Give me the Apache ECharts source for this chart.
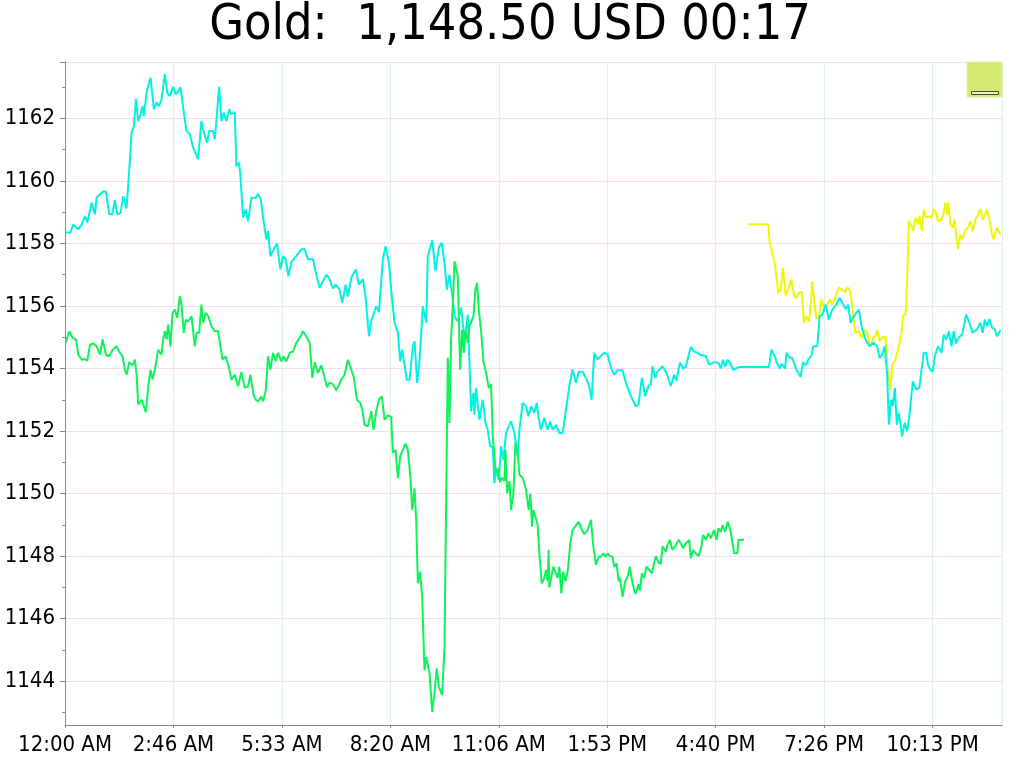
<!DOCTYPE html>
<html>
<head>
<meta charset="utf-8">
<script src="https://cdn.jsdelivr.net/npm/echarts@6/dist/echarts.min.js"></script>
<style>html,body{margin:0;padding:0;background:#fff}#c{width:1020px;height:766px}</style>
</head>
<body>
<div id="c"></div>
<script>
const titleText = 'Gold:  1,148.50 USD 00:17';
const xTickLabels = ['12:00 AM','2:46 AM','5:33 AM','8:20 AM','11:06 AM','1:53 PM','4:40 PM','7:26 PM','10:13 PM'];
const yTickLabels = [1144,1146,1148,1150,1152,1154,1156,1158,1160,1162];
const yMinorTicks = [1143,1145,1147,1149,1151,1153,1155,1157,1159,1161,1163];
const yRange = [1142.6, 1163.8];

// times are minutes after midnight
const cyanTimes = [1.0,7.7,12.8,20.5,25.6,30.7,34.3,40.9,46.0,48.6,58.8,62.9,68.0,72.6,76.7,80.3,85.4,89.5,94.6,99.8,102.3,105.9,109,112.5,116.1,119.2,121.2,125.3,131.5,136.6,140.7,144.3,148.4,153.5,157.0,161.1,166.3,169.8,172.9,177.5,181.6,186.7,191.8,197.0,204.6,209.7,214.9,218.4,221.5,227.6,230.2,232.8,236.9,240.4,244,248.1,252.2,255.8,260.9,263.4,267.5,269.6,273.7,277.3,281.4,286.5,293.1,296.7,300.8,304.4,309.5,312.1,315.6,320.7,325.9,331.0,335.1,339.2,343.3,347.9,355.5,363.2,368.3,373.5,381.1,386.2,391.3,396.5,401.6,
406.7,411.8,415.9,422.0,426.1,431.2,434.8,440.0,446.6,451.7,457.9,462.0,467.1,470.6,478.3,482.4,488.6,492.6,497.8,501.3,506.5,511.6,515.2,518.2,525.4,529.5,534.6,537.2,541.2,544.8,549.9,555.1,557.6,564.3,569.4,574.5,579.1,583.2,586.8,590.9,596.0,598.5,603.7,608.8,613.9,619.0,624.1,627.7,629.2,631.8,636.9,642.0,646.1,649.7,653.3,657.4,659.9,662.5,666.6,670.2,673.7,677.8,685.5,690.6,695.7,698.3,703.4,708.5,712.1,716.2,721.3,724.9,728.0,731.5,736.7,741.8,745.4,749.5,754.6,759.7,764.8,769.9,775.0,780.1,785.3,789.4,795.5,800.6,805.7,809.3,813.4,818.5,823.6,828.7,833.9,839.0,844.1,849.2,856.9,862.0,869.7,877.3,881.4,886.5,891.7,896.8,900.4,902.9,907.0,910.6,
918.2,924.4,931.0,936.1,939.7,944.8,949.9,954.0,961.7,966.8,971.9,977.0,984.7,989.8,997.5,1004.2,1007.7,1011.3,1014.4,1018.0,1021.6,1026.7,1030.8,1035.9,1081.9,1085.5,1089.6,1093.2,1098.3,1101.4,1106.5,1109.0,1113.6,1117.7,1123.9,1130.5,1134.1,1138.2,1142.3,1147.4,1150.0,1156.1,1159.7,1163.8,1168.9,1174.0,1179.1,1185.3,1190.4,1194.5,1199.6,1203.7,1207.3,1212.4,1216.0,1220.0,1224.1,1230.3,1236.4,1243.1,1248.2,1251.8,1255.9,1259.9,1263.5,1266.1,1269.7,1272.2,1275.3,1278.4,1281.4,1286.6,1290.6,1294.2,1297.8,1302.9,1308.0,1313.1,1315.7,1319.8,1323.4,1326.4,1330.0,1333.6,1336.7,1341.8,1346.9,1350.5,1354.1,1358.2,1362.3,1365.8,1369.4,1373.5,1378.6,1384.8,1389.9,1395.0,1401.6,1406.8,1410.3,1413.4,1417.0,1420.6,1424.7,1428.8,1432.3,1437.5];
const cyanValues = [1158.36,1158.33,1158.6,1158.45,1158.6,1158.87,1158.67,1159.3,1158.93,1159.47,1159.67,1159.65,1158.93,1158.93,1159.38,1158.93,1158.98,1159.51,1159.12,1160.69,1161.55,1161.75,1162.61,1161.91,1162.13,1162.39,1162.07,1162.82,1163.3,1162.29,1162.51,1162.39,1162.61,1163.41,1162.82,1162.71,1163.01,1162.77,1162.82,1163.0,1162.34,1161.59,1161.49,1161.06,1160.69,1161.91,1161.43,1161.22,1161.59,1161.59,1161.33,1161.97,1163.01,1161.91,1162.18,1161.91,1162.29,1162.13,1162.2,1160.47,1160.58,1160.15,1158.82,1159.09,1158.71,1159.46,1159.46,1159.59,1159.41,1158.82,1158.13,1158.39,1157.59,1157.81,1158.0,1157.17,1157.59,1157.49,1156.95,1157.41,1157.59,1157.81,1157.81,1157.49,1157.49,1157.0,1156.58,1156.79,1157.0,
1156.85,1156.56,1156.68,1156.52,1156.1,1156.68,1156.3,1156.9,1157.17,1156.68,1156.85,1156.27,1155.03,1155.51,1155.99,1155.8,1157.5,1157.91,1157.38,1156.5,1155.46,1155.14,1154.23,1154.6,1153.64,1153.64,1154.71,1154.87,1153.54,1154.23,1155.99,1155.46,1157.59,1158.1,1157.11,1157.86,1158.02,1157.38,1156.52,1157.0,1156.2,1155.67,1155.51,1155.94,1154.92,1155.72,1152.63,1153.22,1152.52,1153.38,1152.36,1153.0,1152.26,1152.04,1151.51,1151.5,1150.33,1150.76,1150.44,1151.51,1151.08,1151.94,1152.31,1151.94,1151.19,1152.04,1152.9,1152.79,1152.47,1152.79,1152.58,1152.9,1152.4,1152.04,1152.42,1152.04,1152.3,1152.04,1152.2,1151.94,1151.94,1152.68,1153.43,1153.97,1153.54,1153.9,1153.89,1153.7,1153.43,1153.0,1154.5,1154.29,1154.4,1154.5,1154.45,1154.02,1153.8,1153.94,1153.94,1153.54,1153.11,1152.79,1152.85,1153.7,1153.11,1153.45,1153.48,1154.07,1153.7,1153.9,
1154.07,1153.86,1153.43,1153.8,1153.6,1154.18,1154.0,1154.05,1154.69,1154.55,1154.5,1154.43,1154.4,1154.12,1154.2,1154.18,1154.0,1154.28,1154.05,1154.28,1154.2,1153.96,1154.0,1154.05,1154.05,1154.6,1154.45,1154.23,1154.0,1154.15,1154.0,1154.5,1154.34,1154.34,1153.96,1153.73,1154.2,1154.1,1154.28,1154.43,1154.71,1154.71,1155.67,1155.72,1156.04,1155.56,1155.88,1156.04,1156.26,1156.1,1155.9,1156.04,1155.46,1155.67,1155.78,1155.88,1155.35,1154.92,1154.71,1154.82,1154.7,1154.34,1154.45,1154.71,1153.8,1152.2,1153.0,1152.8,1153.38,1152.2,1152.58,1151.83,1152.26,1152.0,1152.52,1153.59,1153.33,1153.38,1153.86,1154.5,1154.5,1154.12,1153.96,1153.9,1154.4,1154.71,1154.5,1155.08,1154.92,1155.19,1154.71,1155.19,1154.8,1155.0,1155.08,1155.72,1155.46,1155.14,1155.25,1155.46,1155.14,1155.56,1155.35,1155.58,1155.3,1155.27,1155.03,1155.22];

const greenTimes = [1.0,6.6,11.8,16.9,20.5,25.6,30.7,34.3,38.4,43.5,48.6,53.7,57.8,62.9,68.0,73.1,79.3,84.4,88.5,92.1,94.6,98.7,103.8,107.4,110.0,112.5,117.7,120.2,124.3,127.9,131.5,134.5,138.1,143.2,148.4,150.9,153.5,156.0,158.6,162.2,165.2,168.8,172.4,176.5,179.0,182.6,185.7,189.3,194.4,199.5,202.1,206.1,209.7,212.3,216.4,220.0,225.1,230.2,235.3,242.0,247.1,252.2,255.8,260.9,266.0,271.1,276.2,281.4,284.9,289.0,293.1,296.7,301.8,304.4,308.5,312.1,315.6,319.7,323.8,327.4,332.5,336.1,340.2,345.3,350.4,355.5,360.7,365.8,370.9,376.0,380.1,383.7,388.8,393.9,399.0,402.6,406.7,
411.8,416.9,424.6,429.7,434.8,440.0,443.5,448.6,453.8,456.8,460.4,465.5,470.6,474.2,478.3,482.4,487.0,491.1,496.2,501.3,503.9,508.0,511.6,515.2,519.2,523.3,526.9,530.5,533.6,537.2,539.7,542.3,545.8,548.9,552.5,555.1,557.6,560.2,564.3,567.8,571.4,574.5,579.6,583.2,585.7,588.3,590.9,593.4,597.0,598.5,603.7,607.2,610.3,612.9,615.4,619.0,621.6,624.1,627.7,630.8,633.3,635.9,639.5,643.0,647.1,651.2,654.8,657.4,659.9,662.5,666.1,668.6,671.7,675.3,676.8,679.4,683.0,685.5,689.1,692.2,695.7,698.3,703.4,708.5,712.6,715.2,717.7,719.8,
726.4,729.0,732.6,736.7,739.2,741.8,743.3,744.3,746.9,750.5,753.5,757.1,759.7,762.8,765.8,768.9,772.5,775.0,776.6,780.1,784.2,789.4,793.0,798.1,803.2,808.3,811.9,816.0,820.0,823.6,827.2,830.3,833.9,837.4,841.5,844.1,847.7,850.7,852.8,856.9,861.0,864.6,868.1,871.2,874.8,877.4,881.4,883.5,886.6,890.1,893.7,897.8,901.9,904.0,908.0,912.1,915.7,918.3,923.4,926.0,929.5,933.6,937.7,942.8,946.4,950.0,954.1,959.2,961.8,965.3,969.4,973.5,977.1,980.7,984.8,988.9,992.4,997.6,1001.1,1004.2,1007.8,1010.4,1014.4,1018.5,1023.1,1025.7,1028.3,1033.4,1034.9,1043.6];
const greenValues = [1154.82,1155.19,1154.98,1154.93,1154.44,1154.28,1154.3,1154.25,1154.76,1154.8,1154.71,1154.44,1154.93,1154.44,1154.39,1154.6,1154.71,1154.5,1154.39,1153.96,1153.8,1154.2,1154.1,1154.28,1153.8,1152.84,1153.0,1152.95,1152.6,1153.43,1153.96,1153.65,1153.96,1154.6,1154.44,1154.93,1155.19,1154.93,1155.4,1154.7,1155.78,1155.88,1155.62,1156.31,1156.04,1155.14,1155.56,1155.5,1155.67,1154.71,1155.14,1155.14,1156.04,1155.46,1155.78,1155.67,1155.35,1155.19,1155.2,1154.28,1154.39,1154.0,1153.64,1153.8,1153.43,1153.89,1153.38,1153.43,1153.8,1153.22,1153.0,1152.95,1153.1,1152.95,1153.3,1154.39,1153.96,1154.5,1154.23,1154.5,1154.23,1154.39,1154.23,1154.5,1154.55,1154.82,1154.98,1155.19,1155.03,1154.82,1153.7,1154.2,1153.86,1154.1,1153.7,1153.4,1153.55,
1153.5,1153.3,1153.64,1153.8,1154.28,1153.96,1153.75,1153.0,1152.9,1152.68,1152.2,1152.15,1152.63,1152.04,1152.63,1153.0,1153.11,1152.36,1152.5,1152.45,1151.3,1151.4,1150.49,1151.2,1151.4,1151.6,1151.4,1150.6,1149.48,1150.17,1149.16,1147.13,1147.5,1146.7,1144.35,1144.78,1144.75,1144.25,1143.02,1143.61,1144.41,1143.82,1143.56,1145.05,1145.1,1154.34,1152.26,1154.92,1156.52,1157.43,1156.95,1153.96,1155.24,1154.5,1155.2,1154.82,1155.35,1155.4,1155.67,1156.52,1156.74,1155.88,1155.2,1154.23,1153.86,1153.38,1153.5,1151.83,1151.19,1150.65,1150.8,1150.36,1150.5,1150.4,1151.4,1150.01,1150.4,1149.48,1150.0,1151.62,1151.3,1150.6,1150.5,1150.12,1149.48,1150.0,1148.94,1149.48,
1149.0,1148.09,1147.13,1147.3,1147.56,1147.2,1148.2,1147.0,1147.02,1147.66,1147.7,1147.3,1147.66,1146.81,1147.5,1147.2,1147.5,1147.5,1148.41,1148.84,1148.95,1149.1,1148.9,1148.7,1148.84,1149.16,1148.31,1147.72,1147.98,1147.98,1148.09,1147.98,1148.09,1148.0,1147.98,1147.66,1147.77,1147.2,1147.3,1146.7,1147.2,1147.35,1147.66,1147.25,1146.9,1146.8,1147.1,1146.9,1147.45,1147.3,1147.66,1147.56,1147.45,1147.66,1148.0,1147.8,1147.75,1148.31,1148.15,1148.36,1148.52,1148.2,1148.31,1148.52,1148.41,1148.25,1148.41,1148.52,1147.93,1148.2,1148.09,1148.0,1148.2,1148.68,1148.52,1148.73,1148.57,1148.84,1148.52,1148.89,1148.78,1148.99,1148.78,1149.1,1148.78,1148.84,1148.09,1148.09,1148.52,1148.52];

const yellowTimes = [1050.2,1080.9,1082.9,1087.0,1091.1,1093.2,1096.2,1099.8,1103.4,1107.5,1112.6,1116.2,1120.3,1123.9,1128.0,1132.1,1135.6,1139.2,1143.3,1145.9,1148.4,1151.0,1154.6,1158.7,1162.7,1166.3,1171.4,1176.6,1179.1,1184.2,1189.4,1194.5,1199.6,1202.1,1205.7,1208.8,1211.4,1214.9,1220.0,1224.1,1229.2,1232.8,1237.9,1242.0,1245.6,1248.2,1251.8,1255.9,1261.0,1263.5,1268.6,1271.2,1276.3,1278.9,1282.5,1285.5,1287.6,1291.7,1294.2,1296.8,1300.9,1303.4,1307.0,1311.1,1313.2,1317.2,1319.8,1323.4,1327.5,1331.6,1335.1,1338.7,1341.8,1346.9,1350.5,1353.0,1355.6,1357.2,1360.7,1364.3,1367.4,1369.4,1372.5,1376.1,1379.7,1383.7,1387.8,1391.4,1395.0,1399.1,1403.2,1406.8,1410.3,1413.4,1417.0,1420.6,1424.7,1427.2,1432.3,1437.5];
const yellowValues = [1158.61,1158.61,1158.02,1157.7,1157.32,1157.3,1156.42,1156.5,1157.22,1156.33,1156.6,1156.85,1156.37,1156.25,1156.42,1156.45,1155.46,1155.67,1155.5,1156.0,1156.79,1156.2,1155.6,1155.67,1156.2,1155.95,1156.04,1156.2,1156.04,1156.3,1156.58,1156.52,1156.45,1156.6,1156.52,1156.2,1155.67,1155.14,1155.2,1154.98,1155.24,1155.14,1154.71,1154.98,1155.03,1155.24,1154.87,1154.98,1155.03,1154.02,1153.32,1154.1,1154.28,1154.23,1154.82,1155.14,1155.67,1155.72,1156.74,1158.71,1158.55,1158.39,1158.82,1158.61,1158.87,1158.39,1159.09,1158.82,1158.87,1158.82,1159.09,1158.98,1158.71,1158.76,1159.0,1159.3,1158.93,1159.3,1158.61,1158.5,1158.76,1158.28,1157.81,1158.28,1158.13,1158.45,1158.5,1158.71,1158.39,1158.76,1158.93,1159.09,1158.76,1158.87,1159.09,1158.76,1158.28,1158.13,1158.5,1158.28];

function pairs(t, v) { return t.map((m, i) => [m * 60, v[i]]); }

const FONT = "'DejaVu Sans Condensed', 'DejaVu Sans', sans-serif";
const chart = echarts.init(document.getElementById('c'), null, {renderer: 'canvas'});
chart.setOption({
  animation: false,
  backgroundColor: '#ffffff',
  title: {
    text: titleText, left: 'center', top: 1, padding: 0,
    textStyle: {fontFamily: FONT, fontSize: 50, fontWeight: 'normal', color: '#000'}
  },
  grid: {left: 65, right: 18, top: 62, bottom: 41, containLabel: false},
  graphic: [
    {type: 'rect', z: 100, shape: {x: 967, y: 62, width: 35, height: 35}, style: {fill: '#d4e96f', stroke: '#e2f0a6', lineWidth: 1}},
    {type: 'rect', z: 101, shape: {x: 971.5, y: 91.5, width: 27, height: 3}, style: {fill: '#eef5c0', stroke: '#4d4d2e', lineWidth: 1}}
  ],
  xAxis: {
    type: 'value', min: 0, max: 86400, interval: 10000,
    axisLine: {show: true, lineStyle: {color: '#888888', width: 1}},
    axisTick: {show: true, length: 3, lineStyle: {color: '#888888'}},
    axisLabel: {
      color: '#000', fontFamily: FONT, fontSize: 22, margin: 9, showMaxLabel: false,
      formatter: v => { const i = Math.round(v / 10000); return (Math.abs(v - i * 10000) < 1 && xTickLabels[i]) ? xTickLabels[i] : ''; }
    },
    splitLine: {show: true, lineStyle: {color: '#dcf3dc', width: 1}}
  },
  yAxis: [
    {
      type: 'value', min: yRange[0], max: yRange[1],
      axisLine: {show: true, lineStyle: {color: '#888888', width: 1}},
      axisTick: {show: true, length: 5, customValues: yTickLabels.concat([yRange[1]]), lineStyle: {color: '#888888'}},
      axisLabel: {
        color: '#000', fontFamily: FONT, fontSize: 22, margin: 10,
        customValues: yTickLabels,
        formatter: v => String(Math.round(v))
      },
      splitLine: {show: true, lineStyle: {color: '#f5def5', width: 1}}
    },
    {
      type: 'value', min: yRange[0], max: yRange[1], position: 'left',
      axisLine: {show: false}, axisLabel: {show: false}, splitLine: {show: false},
      axisTick: {show: true, length: 3, customValues: yMinorTicks, lineStyle: {color: '#888888'}}
    }
  ],
  series: [
    {type: 'line', name: 'yellow', data: pairs(yellowTimes, yellowValues), showSymbol: false, symbol: 'none', yAxisIndex: 0,
     lineStyle: {color: '#eef800', width: 2}, itemStyle: {color: '#eef800'}},
    {type: 'line', name: 'cyan', data: pairs(cyanTimes, cyanValues), showSymbol: false, symbol: 'none', yAxisIndex: 0,
     lineStyle: {color: '#00f2e2', width: 2}, itemStyle: {color: '#00f2e2'}},
    {type: 'line', name: 'green', data: pairs(greenTimes, greenValues), showSymbol: false, symbol: 'none', yAxisIndex: 0,
     lineStyle: {color: '#0ef25a', width: 2}, itemStyle: {color: '#0ef25a'}}
  ]
});
</script>
</body>
</html>
